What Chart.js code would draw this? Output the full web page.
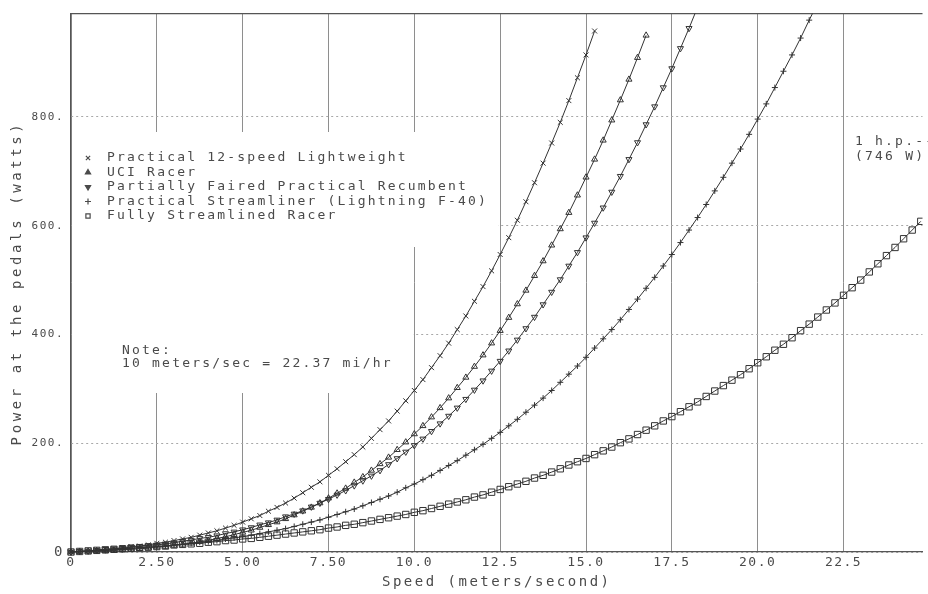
<!DOCTYPE html>
<html>
<head>
<meta charset="utf-8">
<script src="https://cdn.jsdelivr.net/npm/chart.js@4/dist/chart.umd.min.js"></script>
<style>
  html, body { margin: 0; padding: 0; background: #fff; }
  #wrap { width: 928px; height: 594px; overflow: hidden; }
</style>
</head>
<body>
<div id="wrap"><canvas id="powerChart" width="928" height="594"></canvas></div>
<script>
// ---- data (watts at the pedals vs speed in m/s) ----
var speeds = [0,0.25,0.5,0.75,1,1.25,1.5,1.75,2,2.25,2.5,2.75,3,3.25,3.5,3.75,4,4.25,4.5,4.75,
  5,5.25,5.5,5.75,6,6.25,6.5,6.75,7,7.25,7.5,7.75,8,8.25,8.5,8.75,9,9.25,9.5,9.75,
  10,10.25,10.5,10.75,11,11.25,11.5,11.75,12,12.25,12.5,12.75,13,13.25,13.5,13.75,14,14.25,14.5,14.75,
  15,15.25,15.5,15.75,16,16.25,16.5,16.75,17,17.25,17.5,17.75,18,18.25,18.5,18.75,19,19.25,19.5,19.75,
  20,20.25,20.5,20.75,21,21.25,21.5,21.75,22,22.25,22.5,22.75,23,23.25,23.5,23.75,24,24.25,24.5,24.75];

var lightweight = [0,1,2,4,5,6,8,10,11,13,16,18,21,24,27,31,35,39,44,49,
  55,61,67,75,82,90,99,109,119,129,141,153,166,179,193,209,225,241,259,278,
  297,317,339,361,384,409,434,461,488,517,547,578,610,644,679,715,752,790,830,872,
  914,958];

var uciRacer = [0,1,1,2,2,3,4,5,6,7,9,10,12,14,16,19,21,25,28,32,
  36,40,45,50,55,61,68,75,82,90,99,108,117,128,138,150,162,174,188,202,
  217,232,248,265,283,302,321,341,362,384,407,431,456,481,508,535,564,594,624,656,
  689,722,757,794,831,869,909,950];

var recumbent = [0,1,2,3,5,6,7,9,10,12,13,15,17,20,22,25,27,30,34,37,
  41,45,50,54,59,65,70,76,83,90,97,105,113,122,131,140,150,161,172,184,
  196,208,222,236,250,265,281,298,315,333,351,370,390,411,432,455,478,501,526,551,
  578,605,633,662,691,722,753,786,819,854,889,926,963,1002];

var streamliner = [0,1,2,3,3,4,5,6,8,9,10,11,13,14,16,18,19,21,24,26,
  28,31,34,37,40,43,47,51,55,59,64,69,74,79,85,91,97,103,110,118,
  125,133,141,150,159,168,178,188,198,209,220,232,244,257,270,283,297,312,327,342,
  358,375,392,409,427,446,465,485,505,526,547,569,592,615,639,664,689,715,741,768,
  796,824,854,884,914,945,978,1010];

var streamlinedRacer = [0,1,2,3,4,5,6,7,8,9,10,11,13,14,15,16,18,19,21,22,
  24,25,27,29,31,33,35,37,39,41,44,46,49,51,54,57,60,63,66,69,
  73,76,80,84,88,92,96,101,105,110,115,120,125,130,136,141,147,153,160,166,
  172,179,186,193,201,208,216,224,232,241,249,258,267,276,286,296,306,316,326,337,
  348,359,371,382,394,407,419,432,445,458,472,486,500,515,530,545,560,576,592,608];

var seriesNames = [
  'Practical 12-speed Lightweight',
  'UCI Racer',
  'Partially Faired Practical Recumbent',
  'Practical Streamliner (Lightning F-40)',
  'Fully Streamlined Racer'
];

var xTicks = [0, 2.5, 5, 7.5, 10, 12.5, 15, 17.5, 20, 22.5];
var xTickLabels = ['0', '2.50', '5.00', '7.50', '10.0', '12.5', '15.0', '17.5', '20.0', '22.5'];
var yTicks = [0, 200, 400, 600, 800];
var yTickLabels = ['0', '200.', '400.', '600.', '800.'];

// ---- look ----
var MONO = '"DejaVu Sans Mono", "Liberation Mono", monospace';
var TEXT = '#4a4a4a';
var AXIS = '#555';
var INK  = '#333';

function toPoints(values) {
  return values.map(function(p, i) { return { x: speeds[i], y: p }; });
}

function lookup(list, labels, v) {
  for (var i = 0; i < list.length; i++) {
    if (Math.abs(list[i] - v) < 1e-6) return labels[i];
  }
  return '';
}

function fixedTicks(list) {
  return function(scale) {
    scale.ticks = list.map(function(v) { return { value: v }; });
  };
}

function series(i, values, style, rot, r) {
  return {
    label: seriesNames[i],
    data: toPoints(values),
    borderColor: INK,
    borderWidth: 1,
    pointStyle: style,
    pointRotation: rot,
    pointRadius: r,
    pointHoverRadius: r,
    pointBorderWidth: 1,
    pointBorderColor: INK,
    pointBackgroundColor: 'rgba(0,0,0,0)',
    tension: 0,
    clip: { left: 6, top: 0, right: 0, bottom: 6 }
  };
}

// masks behind legend / note, frame top, legend, notes, axis titles
var plotNotes = {
  id: 'plotNotes',
  beforeDraw: function(chart) {
    chart.ctx.letterSpacing = '1.5px';
  },
  beforeDatasetsDraw: function(chart) {
    var ctx = chart.ctx;
    var a = chart.chartArea;
    ctx.save();
    ctx.fillStyle = '#fff';
    ctx.fillRect(a.left + 1, 132, 426, 115);
    ctx.fillRect(a.left + 1, 246, 341, 147);

    ctx.strokeStyle = AXIS;
    ctx.lineWidth = 1.2;
    ctx.beginPath();
    ctx.moveTo(a.left, a.top);
    ctx.lineTo(a.right, a.top);
    ctx.stroke();

    // legend
    ctx.font = '13px ' + MONO;
    ctx.letterSpacing = '2.2px';
    ctx.textBaseline = 'middle';
    ctx.textAlign = 'left';
    chart.data.datasets.forEach(function(ds, i) {
      var y = 158 + i * 14.5;
      ctx.save();
      ctx.strokeStyle = TEXT;
      ctx.fillStyle = ds.pointStyle === 'triangle' ? TEXT : 'rgba(0,0,0,0)';
      Chart.helpers.drawPoint(ctx, { pointStyle: ds.pointStyle, rotation: ds.pointRotation || 0, radius: 3, borderWidth: 1 }, 88, y);
      ctx.restore();
      ctx.fillStyle = TEXT;
      ctx.fillText(ds.label, 107, y);
    });

    ctx.fillText('Note:', 122, 351);
    ctx.fillText('10 meters/sec = 22.37 mi/hr', 122, 364);
    ctx.fillText('1 h.p.---', 855, 142);
    ctx.fillText('(746 W)', 855, 157);

    // axis titles
    ctx.font = '14px ' + MONO;
    ctx.letterSpacing = '2.5px';
    ctx.textAlign = 'center';
    ctx.fillText('Speed (meters/second)', (a.left + a.right) / 2, 582);

    ctx.translate(17, 283);
    ctx.rotate(-Math.PI / 2);
    ctx.letterSpacing = '3.6px';
    ctx.fillText('Power at the pedals (watts)', 0, 0);
    ctx.restore();
  }
};

new Chart(document.getElementById('powerChart'), {
  type: 'line',
  data: {
    datasets: [
      series(0, lightweight, 'crossRot', 0, 3.5),
      series(1, uciRacer, 'triangle', 0, 3.5),
      series(2, recumbent, 'triangle', 180, 3.5),
      series(3, streamliner, 'cross', 0, 3),
      series(4, streamlinedRacer, 'rect', 0, 4.5)
    ]
  },
  options: {
    responsive: false,
    animation: false,
    devicePixelRatio: 1,
    layout: { padding: { top: 10, right: 0, bottom: 0, left: 0 } },
    plugins: { legend: { display: false }, tooltip: { enabled: false } },
    scales: {
      x: {
        type: 'linear',
        min: 0,
        max: 24.8,
        afterBuildTicks: fixedTicks(xTicks),
        afterFit: function(s) { s.height = 42; },
        ticks: {
          autoSkip: false,
          maxRotation: 0,
          padding: 3,
          color: TEXT,
          font: { family: MONO, size: 13 },
          callback: function(v) { return lookup(xTicks, xTickLabels, v); }
        },
        grid: { color: '#8e8e8e', lineWidth: 1, drawTicks: false },
        border: { color: AXIS, width: 1.2 }
      },
      y: {
        type: 'linear',
        min: 0,
        max: 990,
        afterBuildTicks: fixedTicks(yTicks),
        afterFit: function(s) { s.width = 71; },
        ticks: {
          autoSkip: false,
          padding: 7,
          color: TEXT,
          font: function(c) { return { family: MONO, size: c.tick && c.tick.value === 0 ? 14 : 11 }; },
          callback: function(v) { return lookup(yTicks, yTickLabels, v); }
        },
        grid: { color: '#a8a8a8', lineWidth: 1, drawTicks: false },
        border: { color: AXIS, width: 1.2, dash: [2, 3] }
      }
    }
  },
  plugins: [plotNotes]
});
</script>
</body>
</html>
